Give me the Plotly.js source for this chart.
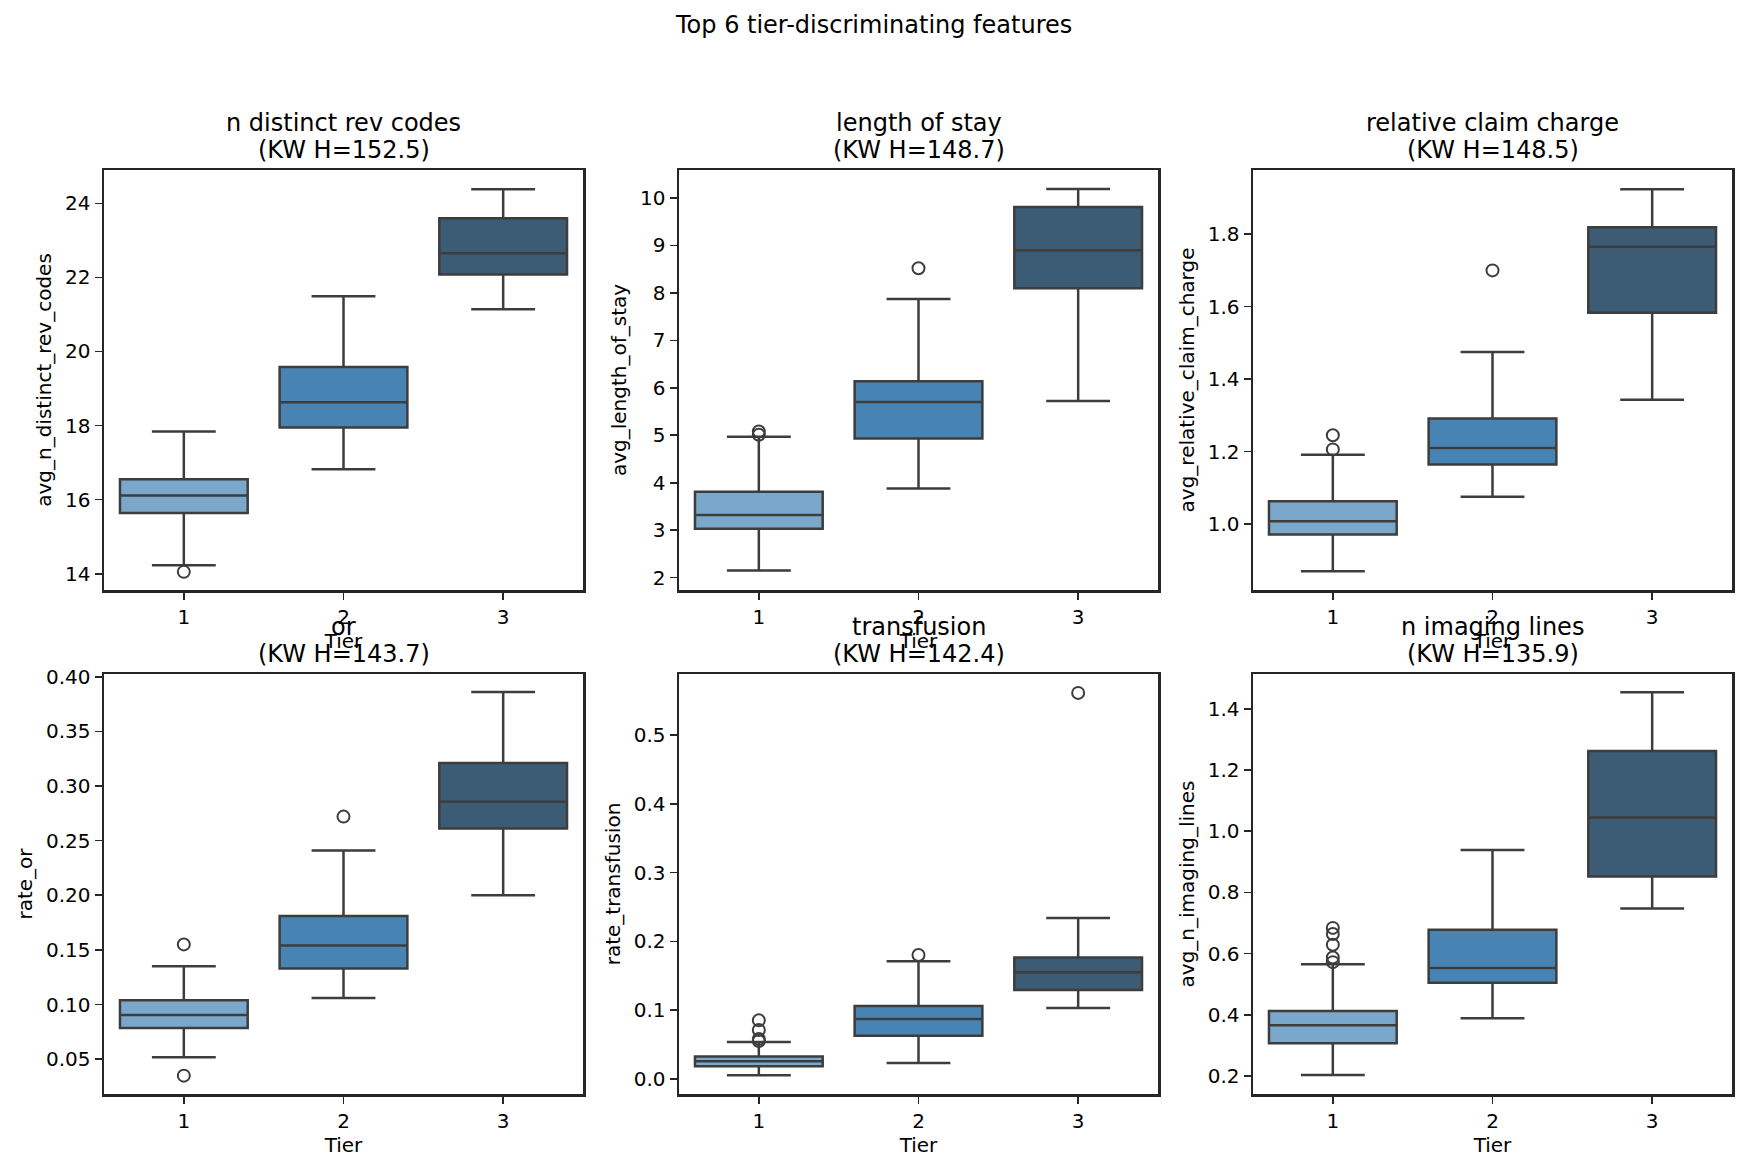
<!DOCTYPE html>
<html>
<head>
<meta charset="utf-8">
<script src="https://cdn.plot.ly/plotly-3.0.1.min.js"></script>
<style>html,body{margin:0;padding:0;background:#fff;}#chart{width:1746px;height:1172px;}</style>
</head>
<body>
<div id="chart"></div>
<script>
// ---- data ----
const tiers = [1, 2, 3];
const tierLabels = ['1', '2', '3'];
const featureNames = ['n distinct rev codes', 'length of stay', 'relative claim charge', 'or', 'transfusion', 'n imaging lines'];
const kwH = ['152.5', '148.7', '148.5', '143.7', '142.4', '135.9'];
const yLabels = ['avg_n_distinct_rev_codes', 'avg_length_of_stay', 'avg_relative_claim_charge', 'rate_or', 'rate_transfusion', 'avg_n_imaging_lines'];

const revLow = [14.23, 16.82, 21.14];
const revQ1 = [15.64, 17.95, 22.08];
const revMed = [16.11, 18.63, 22.65];
const revQ3 = [16.55, 19.58, 23.60];
const revHigh = [17.84, 21.49, 24.38];
const revOutTier = [1];
const revOutVal = [14.05];

const losLow = [2.15, 3.88, 5.72];
const losQ1 = [3.03, 4.93, 8.10];
const losMed = [3.32, 5.70, 8.90];
const losQ3 = [3.81, 6.14, 9.81];
const losHigh = [4.97, 7.87, 10.19];
const losOutTier = [1, 1, 2];
const losOutVal = [5.08, 5.01, 8.52];

const rccLow = [0.870, 1.075, 1.343];
const rccQ1 = [0.971, 1.164, 1.583];
const rccMed = [1.008, 1.210, 1.765];
const rccQ3 = [1.063, 1.291, 1.819];
const rccHigh = [1.191, 1.475, 1.924];
const rccOutTier = [1, 1, 2];
const rccOutVal = [1.245, 1.206, 1.700];

const orLow = [0.0518, 0.106, 0.200];
const orQ1 = [0.0786, 0.133, 0.261];
const orMed = [0.0904, 0.154, 0.2855];
const orQ3 = [0.104, 0.181, 0.321];
const orHigh = [0.135, 0.241, 0.386];
const orOutTier = [1, 1, 2];
const orOutVal = [0.155, 0.0349, 0.272];

const trLow = [0.0051, 0.0228, 0.103];
const trQ1 = [0.0182, 0.0626, 0.129];
const trMed = [0.0256, 0.0871, 0.155];
const trQ3 = [0.0325, 0.106, 0.1765];
const trHigh = [0.0535, 0.171, 0.234];
const trOutTier = [1, 1, 1, 1, 2, 3];
const trOutVal = [0.085, 0.071, 0.058, 0.055, 0.180, 0.5615];

const imgLow = [0.203, 0.389, 0.747];
const imgQ1 = [0.307, 0.505, 0.852];
const imgMed = [0.366, 0.553, 1.045];
const imgQ3 = [0.412, 0.678, 1.262];
const imgHigh = [0.5655, 0.939, 1.454];
const imgOutTier = [1, 1, 1, 1, 1];
const imgOutVal = [0.684, 0.664, 0.629, 0.587, 0.572];

// ---- styling ----
const tierColors = ['#7ba8ca', '#4884b3', '#3c5b74'];
const edge = '#3d3d3d';
const spine = '#262626';
const FONT = 'DejaVu Sans, Liberation Sans, sans-serif';

const features = [
  {low: revLow, q1: revQ1, med: revMed, q3: revQ3, high: revHigh, ox: revOutTier, oy: revOutVal, range: [13.56, 24.90], dtick: 2, fmt: 'd'},
  {low: losLow, q1: losQ1, med: losMed, q3: losQ3, high: losHigh, ox: losOutTier, oy: losOutVal, range: [1.74, 10.59], dtick: 1, fmt: 'd'},
  {low: rccLow, q1: rccQ1, med: rccMed, q3: rccQ3, high: rccHigh, ox: rccOutTier, oy: rccOutVal, range: [0.818, 1.977], dtick: 0.2, fmt: '.1f'},
  {low: orLow, q1: orQ1, med: orMed, q3: orQ3, high: orHigh, ox: orOutTier, oy: orOutVal, range: [0.0181, 0.4025], dtick: 0.05, fmt: '.2f'},
  {low: trLow, q1: trQ1, med: trMed, q3: trQ3, high: trHigh, ox: trOutTier, oy: trOutVal, range: [-0.0222, 0.589], dtick: 0.1, fmt: '.1f'},
  {low: imgLow, q1: imgQ1, med: imgMed, q3: imgQ3, high: imgHigh, ox: imgOutTier, oy: imgOutVal, range: [0.141, 1.514], dtick: 0.2, fmt: '.1f'}
];

const W = 1746, H = 1172;
const colPx = [[104, 583], [679, 1158], [1253, 1732]];
const rowPx = [[170, 590], [674, 1094]];

const traces = [];
const layout = {
  width: W, height: H,
  margin: {l: 0, r: 0, t: 0, b: 0},
  paper_bgcolor: '#ffffff', plot_bgcolor: '#ffffff',
  showlegend: false,
  boxmode: 'overlay',
  font: {family: FONT, size: 20, color: '#000000'},
  annotations: [{
    text: 'Top 6 tier-discriminating features',
    xref: 'paper', yref: 'paper', x: 0.5, y: 1 - 25 / H,
    xanchor: 'center', yanchor: 'middle', showarrow: false,
    font: {family: FONT, size: 24, color: '#000000'}
  }]
};

features.forEach((f, i) => {
  const r = Math.floor(i / 3), c = i % 3;
  const sfx = i === 0 ? '' : String(i + 1);
  const xa = 'x' + sfx, ya = 'y' + sfx;
  const xd = [colPx[c][0] / W, colPx[c][1] / W];
  const yd = [1 - rowPx[r][1] / H, 1 - rowPx[r][0] / H];

  tiers.forEach((t, k) => {
    traces.push({
      type: 'box', xaxis: xa, yaxis: ya,
      x: [t], q1: [f.q1[k]], median: [f.med[k]], q3: [f.q3[k]],
      lowerfence: [f.low[k]], upperfence: [f.high[k]],
      width: 0.8, whiskerwidth: 0.5, boxpoints: false,
      fillcolor: tierColors[k],
      line: {color: edge, width: 2.5},
      hoverinfo: 'skip'
    });
  });
  traces.push({
    type: 'scatter', mode: 'markers', xaxis: xa, yaxis: ya,
    x: f.ox, y: f.oy,
    marker: {symbol: 'circle-open', size: 12, color: edge, line: {width: 2, color: edge}},
    hoverinfo: 'skip'
  });

  layout['xaxis' + sfx] = {
    domain: xd, anchor: ya, range: [0.5, 3.5],
    tickmode: 'array', tickvals: tiers, ticktext: tierLabels,
    ticks: 'outside', ticklen: 7, tickwidth: 1.6, tickcolor: spine,
    showline: true, linecolor: spine, linewidth: 2.5, mirror: true,
    showgrid: false, zeroline: false, automargin: false,
    tickfont: {family: FONT, size: 20, color: '#000'},
    title: {text: 'Tier', standoff: 6, font: {family: FONT, size: 20, color: '#000'}}
  };
  layout['yaxis' + sfx] = {
    domain: yd, anchor: xa, range: f.range,
    dtick: f.dtick, tick0: 0, tickformat: f.fmt,
    ticks: 'outside', ticklen: 7, tickwidth: 1.6, tickcolor: spine,
    showline: true, linecolor: spine, linewidth: 2.5, mirror: true,
    showgrid: false, zeroline: false, automargin: false,
    tickfont: {family: FONT, size: 20, color: '#000'},
    title: {text: yLabels[i], standoff: 8, font: {family: FONT, size: 20, color: '#000'}}
  };
  const cx = (xd[0] + xd[1]) / 2;
  layout.annotations.push({
    text: '(KW H=' + kwH[i] + ')',
    xref: 'paper', yref: 'paper', x: cx, y: yd[1],
    xanchor: 'center', yanchor: 'bottom', yshift: 4, showarrow: false,
    font: {family: FONT, size: 24, color: '#000'}
  });
  layout.annotations.push({
    text: featureNames[i],
    xref: 'paper', yref: 'paper', x: cx, y: yd[1],
    xanchor: 'center', yanchor: 'bottom', yshift: 31, showarrow: false,
    font: {family: FONT, size: 24, color: '#000'}
  });
});

Plotly.newPlot('chart', traces, layout, {staticPlot: true, displayModeBar: false});
</script>
</body>
</html>
